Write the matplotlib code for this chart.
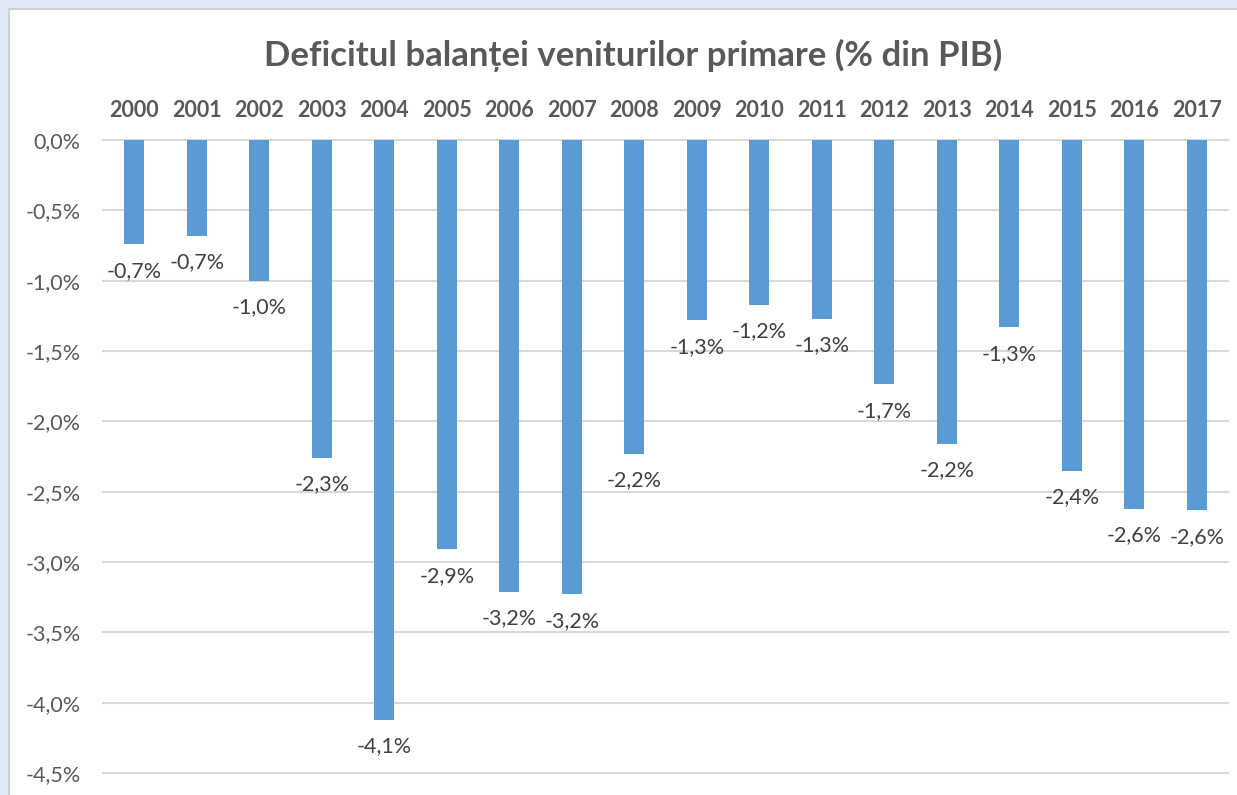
import matplotlib
matplotlib.use("Agg")
import matplotlib.pyplot as plt
from matplotlib.patches import Rectangle
from matplotlib.ticker import FuncFormatter

plt.rcParams['font.family'] = ['Lato', 'DejaVu Sans']

# ===== date =====
years = ["2000", "2001", "2002", "2003", "2004", "2005", "2006", "2007", "2008",
         "2009", "2010", "2011", "2012", "2013", "2014", "2015", "2016", "2017"]
deficit = [-0.74, -0.68, -1.00, -2.26, -4.12, -2.91, -3.21, -3.23, -2.23,
           -1.28, -1.17, -1.27, -1.735, -2.16, -1.33, -2.35, -2.62, -2.63]
y_ticks = [0.0, -0.5, -1.0, -1.5, -2.0, -2.5, -3.0, -3.5, -4.0, -4.5]

bar_color = "#5B9BD5"
text_color = "#595959"
label_color = "#404040"
grid_color = "#D9D9D9"


def pct(v, pos=None):
    return f"{v:.1f}%".replace(".", ",")


fig = plt.figure(figsize=(12.37, 7.95), dpi=100)
fig.patch.set_facecolor("#DEEAF6")

# fundal alb al graficului
fig.patches.append(Rectangle((9 / 1237, -0.01), 1.02, 1 - 9 / 795 + 0.01,
                             transform=fig.transFigure, facecolor="white",
                             edgecolor="#D0D0D0", linewidth=1.5, zorder=-1))

ax = fig.add_axes([103 / 1237, 1 - 773 / 795, (1228 - 103) / 1237, (773 - 140) / 795])
ax.set_facecolor("none")

x = list(range(len(years)))
ax.bar(x, deficit, width=0.32, color=bar_color, zorder=3)

for xi, v in zip(x, deficit):
    ax.annotate(pct(round(v, 1)), (xi, v), xytext=(0, -12), textcoords="offset points",
                ha="center", va="top", fontsize=15.5, color=label_color)

ax.set_xlim(-0.5, 17.5)
ax.set_ylim(-4.5, 0)
ax.set_yticks(y_ticks)
ax.yaxis.set_major_formatter(FuncFormatter(pct))
ax.grid(axis="y", color=grid_color, linewidth=1.5, zorder=0)
for ln in ax.get_ygridlines():
    ln.set_clip_on(False)

ax.xaxis.tick_top()
ax.set_xticks(x)
ax.set_xticklabels(years, fontsize=15.5, fontweight="bold", color=text_color)
ax.tick_params(axis="x", length=0, pad=14)
ax.tick_params(axis="y", length=0, pad=16, labelsize=15.5, labelcolor=text_color)

for s in ax.spines.values():
    s.set_visible(False)

fig.text(0.512, 1 - 55 / 795, "Deficitul balanței veniturilor primare (% din PIB)",
         ha="center", va="center", fontsize=25, fontweight="bold", color=text_color)

plt.savefig("out.png", dpi=100)
plt.close()
